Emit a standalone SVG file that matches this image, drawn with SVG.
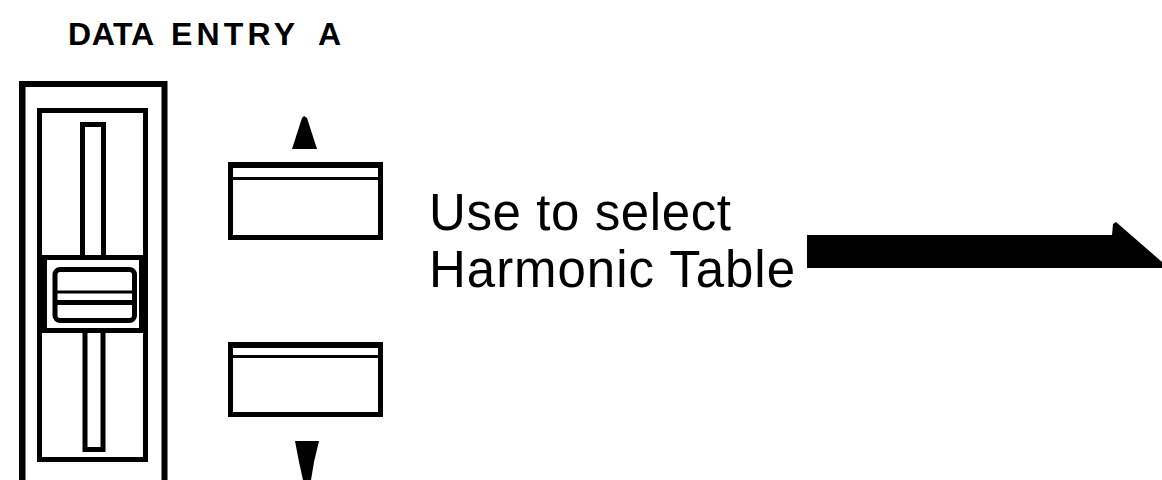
<svg xmlns="http://www.w3.org/2000/svg" width="1162" height="480" viewBox="0 0 1162 480">
  <style>
    .ln { fill: none; stroke: #000; stroke-width: 5; }
    .wf { fill: #fff; stroke: #000; stroke-width: 5; }
    .solid { fill: #000; stroke: none; }
    .txt { font-family: "Liberation Sans", Arial, Helvetica, sans-serif; fill: #000; }
    .ttl { font-size: 32px; font-weight: bold; }
    .lbl { font-size: 51px; }
  </style>
  <rect x="0" y="0" width="1162" height="480" fill="#fff"/>

  <g id="title">
    <text class="txt ttl" y="45"><tspan x="68" textLength="86" lengthAdjust="spacing">DATA</tspan><tspan x="171" textLength="124" lengthAdjust="spacing">ENTRY</tspan><tspan x="318">A</tspan></text>
  </g>

  <g id="slider">
    <rect x="22.5" y="84" width="142" height="420" fill="none" stroke="#000" stroke-width="6"/>
    <line x1="20.5" y1="81" x2="20.5" y2="480" stroke="#000" stroke-width="3"/>
    <rect class="ln" x="39.5" y="110.5" width="106" height="349"/>
    <rect class="ln" x="82.5" y="124.5" width="21" height="140"/>
    <rect class="ln" x="85" y="325" width="18" height="124.5"/>
    <g id="knob">
      <rect class="wf" x="44.5" y="257.5" width="97" height="73"/>
      <rect class="ln" x="55" y="269.5" width="79.5" height="51" rx="5"/>
      <line x1="57" y1="292" x2="132" y2="292" stroke="#000" stroke-width="3"/>
      <line x1="57" y1="302.5" x2="132" y2="302.5" stroke="#000" stroke-width="5"/>
    </g>
  </g>

  <g id="button-up">
    <rect class="ln" x="230.5" y="164.5" width="150" height="73"/>
    <line x1="232" y1="165" x2="379" y2="165" stroke="#000" stroke-width="6"/>
    <line x1="233" y1="178.5" x2="378" y2="178.5" stroke="#000" stroke-width="3"/>
  </g>

  <g id="button-down">
    <rect class="ln" x="230.5" y="344.5" width="150" height="70"/>
    <line x1="232" y1="345" x2="379" y2="345" stroke="#000" stroke-width="6"/>
    <line x1="233" y1="356.5" x2="378" y2="356.5" stroke="#000" stroke-width="3"/>
  </g>

  <g id="label">
    <text class="txt lbl" x="429" y="230" textLength="302" lengthAdjust="spacing">Use to select</text>
    <text class="txt lbl" x="429" y="287" textLength="366" lengthAdjust="spacing">Harmonic Table</text>
  </g>

  <g id="connectors">
    <polygon class="solid" points="304,116 307,118 317,149 292,149 302,118"/>
    <polygon class="solid" points="295,441 319,441 314,462 311,480 303,480 299,462"/>
    <polygon class="solid" points="807,235 1112,235 1113,224 1116,222 1162,262 1162,268 807,268"/>
  </g>
</svg>
